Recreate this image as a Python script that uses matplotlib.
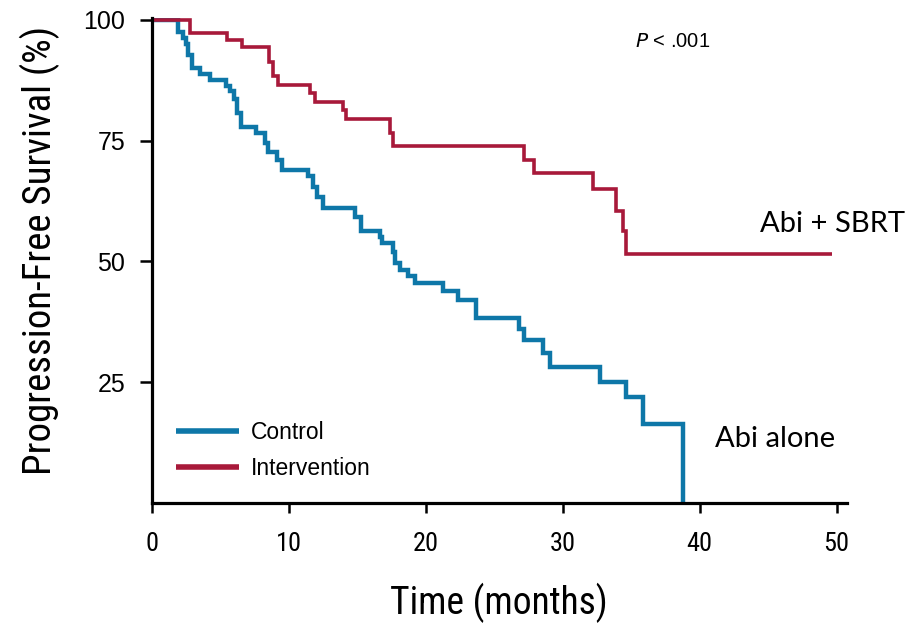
import matplotlib
matplotlib.use("Agg")
import matplotlib.pyplot as plt
from matplotlib import font_manager as fm

# ---- data ----
control_t = [0, 1.96, 2.28, 2.52, 2.69, 2.93, 3.55, 4.3, 5.4, 5.7, 6.0, 6.25, 6.5,
             7.65, 8.3, 8.5, 9.15, 9.5, 11.45, 11.8, 12.05, 12.5, 14.85, 15.3,
             16.65, 16.8, 17.6, 17.75, 18.15, 18.75, 19.25, 21.3, 22.4, 23.7,
             26.8, 27.2, 28.6, 29.1, 32.7, 34.6, 35.85, 38.8]
control_s = [100, 97.6, 96.2, 95.0, 92.7, 90.0, 88.9, 87.6, 86.3, 85.3, 83.6, 80.7, 77.9,
             76.5, 74.5, 72.7, 71.0, 68.9, 67.6, 65.5, 63.4, 61.0, 59.3, 56.4,
             55.1, 53.8, 52.0, 49.7, 48.2, 46.9, 45.5, 43.8, 42.0, 38.2,
             36.0, 33.8, 31.0, 28.2, 25.0, 21.9, 16.4, 0]

interv_t = [0, 2.8, 5.5, 6.6, 8.6, 8.9, 9.2, 11.6, 11.9, 14.0, 14.2, 17.4, 17.6,
            27.2, 27.9, 32.2, 33.9, 34.4, 34.6, 49.7]
interv_s = [100, 97.3, 95.9, 94.5, 91.3, 88.5, 86.6, 84.9, 83.0, 81.3, 79.5, 76.6, 73.9,
            71.0, 68.3, 65.0, 60.5, 56.3, 51.6, 51.6]

x_ticks = [0, 10, 20, 30, 40, 50]
y_ticks = [25, 50, 75, 100]
series_labels = ["Control", "Intervention"]
blue = "#0e77a8"
red = "#a8193a"


def narrow_font(size):
    """Find an installed condensed sans font; fall back to Roboto."""
    cands = []
    for f in fm.fontManager.ttflist:
        name = f.name.lower()
        path = f.fname.lower()
        cond = ("condensed" in name or "narrow" in name or "condensed" in path
                or "narrow" in path or str(f.stretch).lower() in ("condensed", "semi-condensed"))
        if not cond:
            continue
        if f.style != "normal":
            continue
        w = f.weight if isinstance(f.weight, int) else 400
        if w != 400:
            continue
        if "mono" in name or "serif" in name and "sans" not in name:
            continue
        cands.append(f)
    pref = ["liberation sans narrow", "roboto condensed", "noto sans", "dejavu sans",
            "open sans"]
    for p in pref:
        for f in cands:
            if f.name.lower().startswith(p):
                return fm.FontProperties(fname=f.fname, size=size)
    if cands:
        return fm.FontProperties(fname=cands[0].fname, size=size)
    return fm.FontProperties(family="Roboto", size=size)


fig = plt.figure(figsize=(9.14, 6.24), dpi=100)
ax = fig.add_axes([0.1658, 0.1939, 0.7614, 0.7772])

ax.step(control_t, control_s, where="post", color=blue, lw=3.2, label=series_labels[0],
        solid_joinstyle="miter", solid_capstyle="butt")
ax.step(interv_t, interv_s, where="post", color=red, lw=2.6, label=series_labels[1],
        solid_joinstyle="miter", solid_capstyle="butt")

ax.set_xlim(0, 50.8)
ax.set_ylim(0, 100.4)
ax.set_xticks(x_ticks)
ax.set_yticks(y_ticks)
ax.set_yticklabels([str(v) for v in y_ticks], fontsize=18, family="Liberation Sans")
ax.set_xticklabels([str(v) for v in x_ticks], fontproperties=narrow_font(19))

for s in ["top", "right"]:
    ax.spines[s].set_visible(False)
for s in ["left", "bottom"]:
    ax.spines[s].set_linewidth(2.3)
ax.tick_params(axis="y", length=9, width=1.8, pad=10)
ax.tick_params(axis="x", length=7, width=1.8, pad=14)

ax.set_xlabel("Time (months)", fontproperties=narrow_font(27))
ax.set_ylabel("Progression-Free Survival (%)", fontproperties=narrow_font(28))
ax.xaxis.set_label_coords(0.499, -0.165)
ax.yaxis.set_label_coords(-0.132, 0.52)

ax.text(44.4, 56.1, "Abi + SBRT", fontsize=21, family="Lato", va="baseline", ha="left")
ax.text(41.1, 11.6, "Abi alone", fontsize=21, family="Lato", va="baseline", ha="left")
ax.text(35.3, 94.5, r"$\it{P}$ < .001", fontsize=14.5, family="Liberation Sans",
        va="baseline", ha="left")

leg = ax.legend(loc="lower left", bbox_to_anchor=(0.005, 0.005), frameon=False,
                prop={"family": "Liberation Sans", "size": 16.5},
                handlelength=2.75, handletextpad=0.55, labelspacing=0.55)
for line in leg.get_lines():
    line.set_linewidth(4)

fig.savefig("out.png", dpi=100)
